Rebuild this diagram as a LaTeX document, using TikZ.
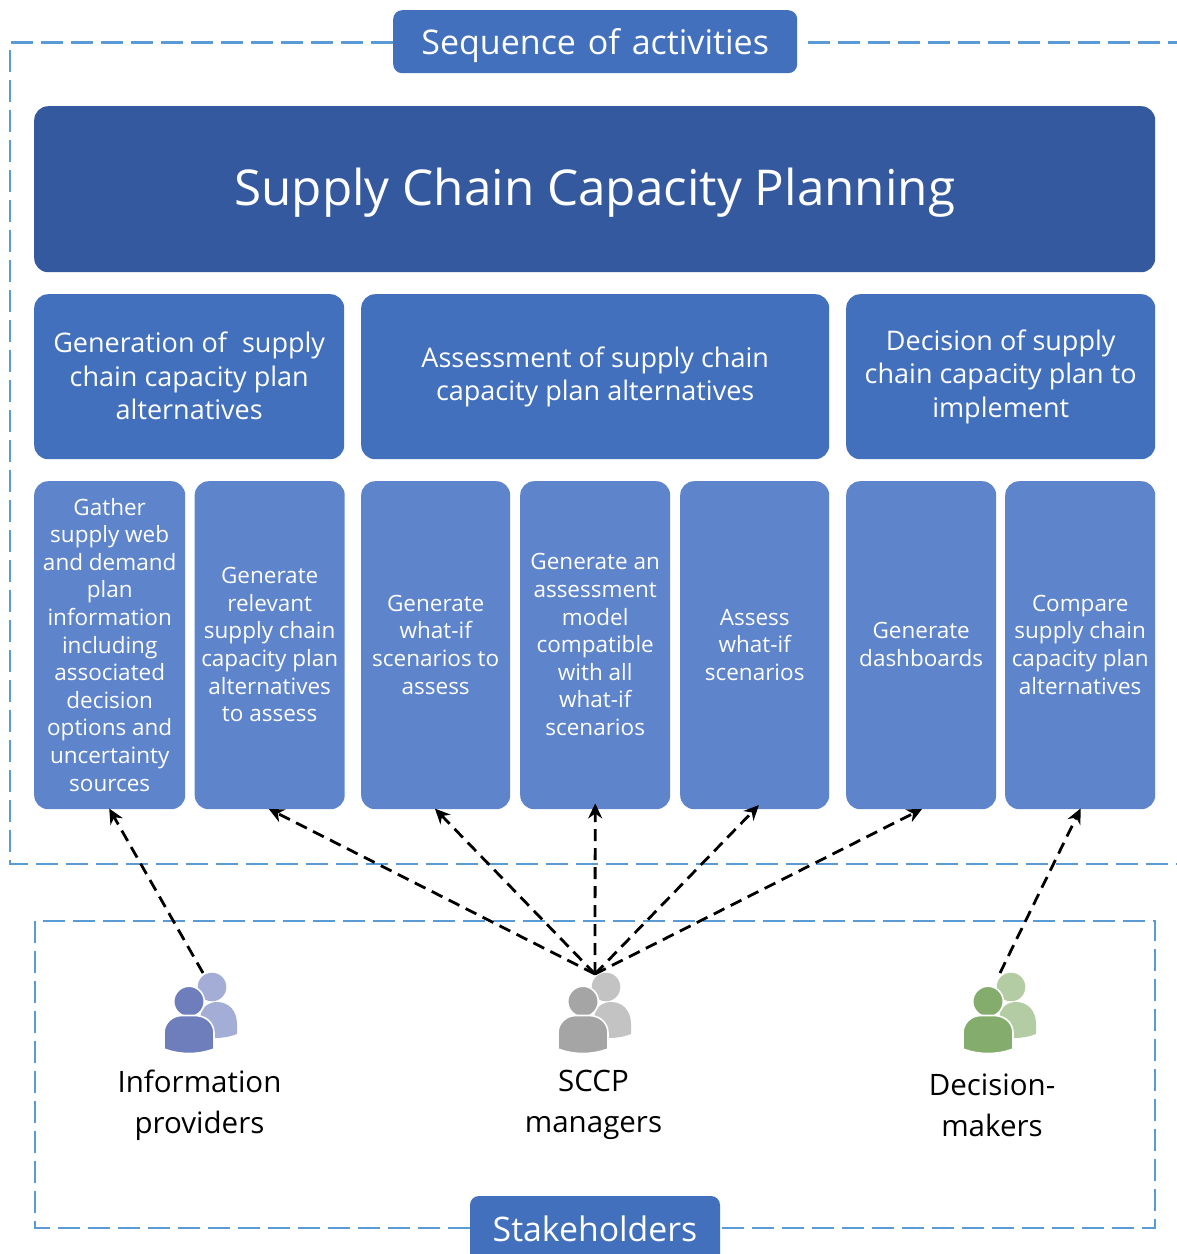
\documentclass[tikz,border=0pt]{standalone}
\usepackage{fontspec}
\setmainfont{Open Sans}
\usetikzlibrary{arrows.meta}
\newcommand{\shimtop}[1]{\rule{0pt}{\dimexpr0.7\baselineskip+#1\relax}}
\newcommand{\shimbot}[1]{\rule[\dimexpr-0.3\baselineskip+#1\relax]{0pt}{\dimexpr0.3\baselineskip-#1\relax}}
\tikzset{
  level/.style={execute at begin node=\shimtop{#1},execute at end node=\shimbot{#1}},
  box/.style={rounded corners=#1,inner sep=0pt,align=center,text=white,anchor=north west},
  box/.default=14pt,
  subbox/.style={box=14pt,fill=subblue,minimum height=328pt,level=7pt,font=\fontsize{22.5}{27.6}\selectfont},
  headbox/.style={box=14pt,fill=headblue,minimum height=165pt,level=8pt,font=\fontsize{27}{33.5}\selectfont},
  frame/.style={draw=frameblue,line width=2.7pt,dash pattern=on 22pt off 8pt},
  flow/.style={draw=black,line width=2.8pt,dash pattern=on 12pt off 7pt,-{Stealth[length=15pt,width=14pt]}},
  who/.style={inner sep=0pt,align=center,text=black,level=14pt,font=\fontsize{29.5}{41}\selectfont},
}
\definecolor{titleblue}{HTML}{34599E}
\definecolor{headblue}{HTML}{4270BD}
\definecolor{subblue}{HTML}{5E84CB}
\definecolor{frameblue}{HTML}{5B9BD5}
\definecolor{infoa}{HTML}{6E7DBB}
\definecolor{infob}{HTML}{A3ADD6}
\definecolor{greya}{HTML}{A5A5A5}
\definecolor{greyb}{HTML}{C3C3C3}
\definecolor{greena}{HTML}{84AC6C}
\definecolor{greenb}{HTML}{B4CCA4}
\newcommand{\personicon}[3]{%
  \begin{scope}[shift={(#1,0)}]
    \fill[#3] (212,987) circle (14.3);
    \fill[#3] (200,1040) -- (200,1020) .. controls (200,1008) and (208,1002) .. (217,1002)
      .. controls (229,1002) and (237,1011) .. (237,1024) -- (237,1034)
      .. controls (229,1037) and (222,1038) .. (215,1038) -- cycle;
    \fill[#2,draw=white,line width=1.6pt] (189,1001.5) circle (15.3);
    \fill[#2,draw=white,line width=1.6pt] (164,1049) -- (164,1033)
      .. controls (164,1023) and (172,1015.5) .. (182,1015.5) -- (195,1015.5)
      .. controls (206,1015.5) and (214,1023) .. (214,1033) -- (214,1049)
      .. controls (198,1055) and (180,1055) .. (164,1049) -- cycle;
  \end{scope}}
\begin{document}
\begin{tikzpicture}[x=1pt,y=-1pt]
\useasboundingbox (0,0) rectangle (1177,1254);
% dashed frames
\coordinate (fa) at (393,42.5);
\coordinate (fb) at (10,42.5);
\coordinate (fc) at (10,864);
\coordinate (fd) at (1177,864);
\coordinate (fe) at (808,42.5);
\coordinate (ff) at (1177,42.5);
\path[frame] (fa) -- (fb) -- (fc) -- (fd);
\path[frame] (fe) -- (ff);
\coordinate (ga) at (470,1228);
\coordinate (gb) at (35,1228);
\coordinate (gc) at (35,921);
\coordinate (gd) at (1155,921);
\coordinate (ge) at (1155,1228);
\coordinate (gf) at (720,1228);
\path[frame] (ga) -- (gb) -- (gc) -- (gd) -- (ge) -- (gf);
% top labels
\node[box=9pt,fill=headblue,minimum width=404pt,minimum height=63pt,level=5pt,font=\fontsize{34}{40}\selectfont] (seq) at (393,10) {Sequence\hspace{3pt} of\hspace{3pt} activities};
\node[box=14pt,fill=titleblue,minimum width=1121pt,minimum height=166pt,level=5pt,font=\fontsize{49.4}{58}\selectfont] (title) at (34,106) {Supply Chain Capacity Planning};
% headings
\node[headbox,minimum width=310pt] (h1) at (34,294) {Generation of\hspace{8pt} supply\\chain capacity plan\\alternatives};
\node[headbox,minimum width=468pt] (h2) at (361,294) {Assessment of supply chain\\capacity plan alternatives};
\node[headbox,minimum width=309pt] (h3) at (846,294) {Decision of supply\\chain capacity plan to\\implement};
% activities
\node[subbox,minimum width=151pt] (s1) at (34,481) {Gather\\supply web\\and demand\\plan\\information\\including\\associated\\decision\\options and\\uncertainty\\sources};
\node[subbox,minimum width=150pt] (s2) at (194.5,481) {Generate\\relevant\\supply chain\\capacity plan\\alternatives\\to assess};
\node[subbox,minimum width=149pt] (s3) at (361,481) {Generate\\what-if\\scenarios to\\assess};
\node[subbox,minimum width=150pt] (s4) at (520,481) {Generate an\\assessment\\model\\compatible\\with all\\what-if\\scenarios};
\node[subbox,minimum width=149pt] (s5) at (680,481) {Assess\\what-if\\scenarios};
\node[subbox,minimum width=150pt] (s6) at (846,481) {Generate\\dashboards};
\node[subbox,minimum width=150pt] (s7) at (1005,481) {Compare\\supply chain\\capacity plan\\alternatives};
% stakeholders tab
\fill[headblue,rounded corners=9pt] (470,1275) -- (470,1196) -- (720,1196) -- (720,1275) -- cycle;
\node[inner sep=0pt,text=white,level=4pt,font=\fontsize{33.8}{40}\selectfont] (stk) at (595,1229) {Stakeholders};
% people
\personicon{0}{infoa}{infob}
\personicon{394}{greya}{greyb}
\personicon{799}{greena}{greenb}
\coordinate (pi) at (203,973);
\coordinate (pm) at (595,974);
\coordinate (pd) at (1000,973);
\node[who] (ni) at (199.5,1105) {Information\\providers};
\node[who] (nm) at (593.5,1105) {SCCP\\managers};
\node[who] (nd) at (992,1105) {Decision-\\makers};
% connectors
\draw[flow,shorten >=-1pt] (pi) -- (s1.south);
\draw[flow,shorten >=-1pt] (pm) -- (s2.south);
\draw[flow,shorten >=-1pt] (pm) -- (s3.south);
\draw[flow,shorten >=-6pt] (pm) -- (s4.south);
\draw[flow,shorten >=-6pt] (pm) -- (s5.south);
\draw[flow,shorten >=-1pt] (pm) -- (s6.south);
\draw[flow,shorten >=-1pt] (pd) -- (s7.south);
\end{tikzpicture}
\end{document}
